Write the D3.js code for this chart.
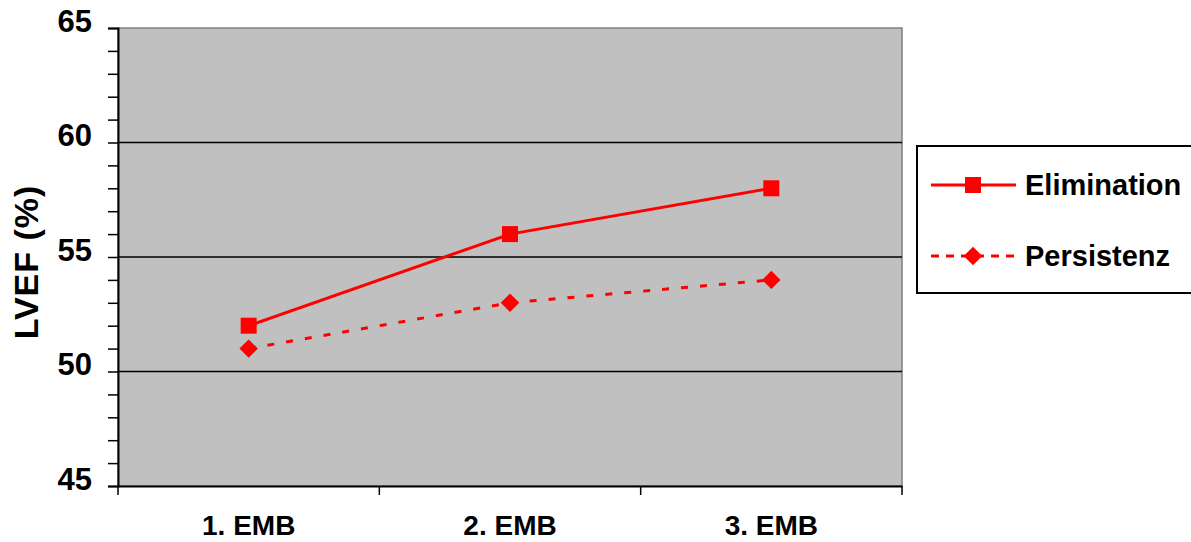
<!DOCTYPE html>
<html>
<head>
<meta charset="utf-8">
<script src="https://cdn.jsdelivr.net/npm/d3@7"></script>
<style>
  body { margin: 0; background: #fff; }
  svg { display: block; font-family: "Liberation Sans", Arial, sans-serif; font-weight: bold; }
</style>
</head>
<body>
<svg width="1191" height="542"></svg>
<script>
const categories = ['1. EMB', '2. EMB', '3. EMB'];
const elimination = [52, 56, 58];
const persistenz = [51, 53, 54];
const yTicks = [45, 50, 55, 60, 65];

const svg = d3.select('svg');
const margin = { left: 118, top: 28, right: 289, bottom: 56 };
const width = 1191 - margin.left - margin.right;
const height = 542 - margin.top - margin.bottom;
const red = '#ff0000';

const x = d3.scaleBand().domain(categories).range([0, width]);
const y = d3.scaleLinear().domain([45, 65]).range([height, 0]);

const g = svg.append('g').attr('transform', `translate(${margin.left},${margin.top})`);

// plot background
g.append('rect')
  .attr('width', width).attr('height', height)
  .attr('fill', '#c0c0c0')
  .attr('stroke', '#808080').attr('stroke-width', 1.5);

// gridlines
g.selectAll('.grid')
  .data(yTicks.filter(d => d > 45 && d < 65))
  .join('line')
  .attr('x1', 0).attr('x2', width)
  .attr('y1', d => y(d)).attr('y2', d => y(d))
  .attr('stroke', '#000').attr('stroke-width', 1.5);

// y axis
const yAxis = g.append('g')
  .call(d3.axisLeft(y).tickValues(d3.range(45, 66)).tickSize(10)
    .tickFormat(d => yTicks.includes(d) ? d : ''));
yAxis.select('.domain').attr('stroke', '#000').attr('stroke-width', 2);
yAxis.selectAll('line').attr('stroke', '#000').attr('stroke-width', 1.5);
yAxis.selectAll('text')
  .attr('font-size', 31).attr('font-family', '"Liberation Sans", Arial, sans-serif')
  .attr('font-weight', 'bold').attr('fill', '#000').attr('x', -26).attr('dy', '0.1em');

// x axis
const xAxis = g.append('g').attr('transform', `translate(0,${height})`)
  .call(d3.axisBottom(x).tickSize(0).tickPadding(29));
xAxis.select('.domain').attr('stroke', '#000').attr('stroke-width', 2);
xAxis.selectAll('text')
  .attr('font-size', 28).attr('font-family', '"Liberation Sans", Arial, sans-serif')
  .attr('font-weight', 'bold').attr('fill', '#000');
xAxis.selectAll('.edge')
  .data(d3.range(categories.length + 1))
  .join('line')
  .attr('x1', i => i * x.step()).attr('x2', i => i * x.step())
  .attr('y1', 0).attr('y2', 9)
  .attr('stroke', '#000').attr('stroke-width', 1.5);

// y title
svg.append('text')
  .attr('transform', 'translate(38,262) rotate(-90)')
  .attr('text-anchor', 'middle')
  .attr('font-size', 34)
  .attr('letter-spacing', 1)
  .text('LVEF (%)');

const cx = i => x(categories[i]) + x.bandwidth() / 2;
const line = d3.line().x((d, i) => cx(i)).y(d => y(d));

g.append('path').datum(elimination)
  .attr('d', line).attr('fill', 'none')
  .attr('stroke', red).attr('stroke-width', 3);
g.append('path').datum(persistenz)
  .attr('d', line).attr('fill', 'none')
  .attr('stroke', red).attr('stroke-width', 3).attr('stroke-dasharray', '7,12');

const square = d3.symbol().type(d3.symbolSquare).size(256);
const diamond = d3.symbol().type(d3.symbolSquare).size(170);

g.selectAll('.sq').data(elimination).join('path')
  .attr('d', square)
  .attr('transform', (d, i) => `translate(${cx(i)},${y(d)})`)
  .attr('fill', red);
g.selectAll('.dm').data(persistenz).join('path')
  .attr('d', diamond)
  .attr('transform', (d, i) => `translate(${cx(i)},${y(d)}) rotate(45)`)
  .attr('fill', red);

// legend
const leg = svg.append('g');
leg.append('rect')
  .attr('x', 917).attr('y', 146).attr('width', 290).attr('height', 147)
  .attr('fill', '#fff').attr('stroke', '#000').attr('stroke-width', 2);

const legendItems = [
  { name: 'Elimination', y: 185, dash: null, shape: square, rot: 0 },
  { name: 'Persistenz', y: 256, dash: '8,7', shape: diamond, rot: 45 }
];
legendItems.forEach(it => {
  leg.append('line')
    .attr('x1', 931).attr('x2', 1016).attr('y1', it.y).attr('y2', it.y)
    .attr('stroke', red).attr('stroke-width', 3)
    .attr('stroke-dasharray', it.dash);
  leg.append('path').attr('d', it.shape)
    .attr('transform', `translate(973,${it.y}) rotate(${it.rot})`)
    .attr('fill', red);
  leg.append('text')
    .attr('x', 1025).attr('y', it.y).attr('dy', '0.36em')
    .attr('font-size', 29)
    .text(it.name);
});
</script>
</body>
</html>
